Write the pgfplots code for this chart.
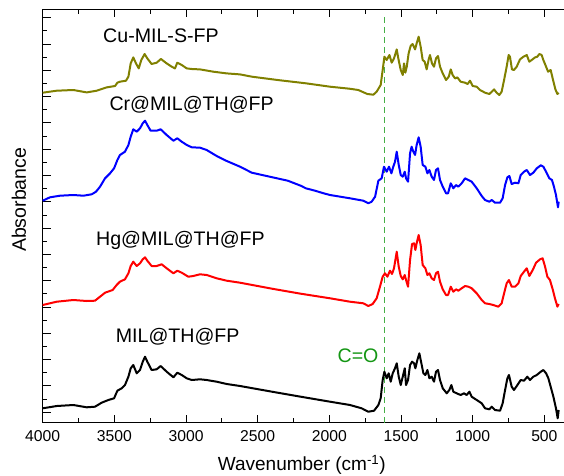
\documentclass[border=0pt]{standalone}
\usepackage{fontspec}
\setmainfont{Liberation Sans}
\usepackage{pgfplots}
\pgfplotsset{compat=1.18}
\definecolor{cuolive}{RGB}{128,128,0}
\definecolor{cogreen}{RGB}{20,150,20}
\definecolor{dashgreen}{RGB}{70,175,70}

\begin{document}
\begin{tikzpicture}
\useasboundingbox (-42.7pt,-52.3pt) rectangle (521.3pt,422.7pt);
\begin{axis}[
    scale only axis,
    width=521.3pt, height=413.4pt,
    x dir=reverse,
    xmin=363, xmax=4000,
    ymin=0, ymax=413.4,
    axis x line*=box, axis y line*=left,
    axis line style={line width=1.1pt},
    tick align=inside,
    major tick length=8pt, minor tick length=4.5pt,
    tick style={line width=0.9pt, black},
    xtick={500,1000,...,4000}, minor x tick num=1,
    ytick={10.5,36.8,...,405}, minor y tick num=1,
    yticklabels={},
    /pgf/number format/assume math mode=true,
    /pgf/number format/1000 sep={},
    xticklabel style={font=\fontsize{15.7}{18}\selectfont, yshift=-4.5pt},
    xlabel={Wavenumber (cm\textsuperscript{-1})},
    ylabel={Absorbance},
    xlabel style={font=\fontsize{19}{22}\selectfont, at={(axis description cs:0.497,-0.1016)}, anchor=center},
    ylabel style={font=\fontsize{19.5}{22}\selectfont, at={(axis description cs:-0.0455,0.539)}, anchor=center},
    every axis plot/.append style={line width=2pt, line join=round},
    clip=false,
]
% C=O marker
\addplot[dashgreen, dash pattern=on 6pt off 4pt, line width=1.2pt] coordinates {(1615,0) (1615,406)};

% Cu-MIL-S-FP
\addplot[cuolive] coordinates {
(4000,330) (3902,332) (3786,332.7) (3693,330.3) (3623,332) (3554,335.3) (3495,336.7)
(3479,340) (3461,341) (3419,342) (3402,346) (3386,359.3) (3368,365.3) (3349,359.3)
(3330,354.3) (3312,362.7) (3289,368.7) (3270,364.3) (3240,358.7) (3205,360) (3175,363.7)
(3135,359.3) (3100,356) (3077,354.3) (3061,360) (3030,357.7) (2995,354.3) (2960,353.7)
(2902,353.3) (2809,351) (2716,349.3) (2623,348.3) (2540,346) (2350,342.5) (2164,339.4)
(1995,336) (1860,334) (1798,332.7) (1735,328.7) (1693,328) (1670,331) (1642,337.7)
(1628,352.7) (1616,366) (1600,362.7) (1581,367.7) (1565,360) (1549,364.3) (1530,373.3)
(1519,364.3) (1502,352.7) (1488,347.7) (1479,359.3) (1470,350) (1460,356) (1447,369.3)
(1433,376.7) (1419,378.7) (1402,373.3) (1391,379.3) (1377,386) (1363,376) (1349,362.7)
(1335,361) (1321,353.3) (1307,363.3) (1298,367.7) (1284,359.3) (1270,356) (1256,364.3)
(1242,366.7) (1228,356) (1209,349.3) (1186,342.7) (1167,346) (1153,353.3) (1140,347.7)
(1123,344.3) (1107,345.3) (1084,341) (1053,340) (1035,338.7) (1019,342) (1000,336.7)
(972,336) (949,332.7) (914,330) (884,328.7) (867,331) (851,333.3) (833,330) (814,327.7)
(798,331) (781,342.7) (763,356) (749,367.7) (740,366) (726,353.3) (712,352.7) (693,356)
(670,363.3) (646,366) (623,367.7) (605,361) (588,362.7) (565,365.3) (549,366) (535,368.7)
(519,367.7) (507,362.7) (488,356) (474,351) (456,352.7) (442,344.3) (423,333.3) (409,328.7)
(400,330)
};

% Cr@MIL@TH@FP
\addplot[blue] coordinates {
(4000,222) (3949,225.4) (3879,227) (3786,227.7) (3716,227) (3658,228.4) (3628,231) (3600,236)
(3565,244.4) (3530,249.4) (3502,254.4) (3479,262.7) (3461,267.7) (3426,271) (3402,277.7)
(3386,286) (3368,293.4) (3344,291) (3321,294.4) (3302,299.4) (3286,302) (3270,297.7)
(3247,292) (3205,292) (3177,293.4) (3135,287.7) (3088,282) (3061,284.4) (3030,281)
(2995,277.7) (2960,275.4) (2902,275) (2856,272.7) (2786,266.7) (2716,261.7) (2623,256)
(2541,250) (2400,245.5) (2290,242) (2200,237) (2164,234.4) (2100,232) (2040,229.4)
(1995,227.7) (1856,224.4) (1763,222) (1728,219.4) (1705,221) (1681,226) (1658,242)
(1635,244.4) (1619,256) (1600,251) (1584,256) (1567,249.4) (1554,256) (1542,261) (1530,271)
(1516,257.7) (1502,247.7) (1488,246) (1474,251) (1465,244.4) (1451,241) (1437,269.4)
(1426,276) (1414,271) (1402,267.7) (1391,277.7) (1377,285.4) (1363,276) (1349,257.7)
(1330,256) (1316,249.4) (1302,252.7) (1286,246) (1270,242.7) (1256,252.7) (1242,254.4)
(1228,242.7) (1209,236) (1186,229.4) (1172,229.4) (1153,239.4) (1135,234.4) (1116,237.7)
(1100,236) (1077,239.4) (1053,244.4) (1030,242.7) (1007,241) (972,234.4) (937,226.7)
(914,222.7) (884,221) (867,222.7) (844,220) (809,220) (791,224.4) (774,237.7) (758,245.4)
(744,246.7) (728,238.7) (705,240) (681,239.4) (665,247.7) (642,251) (623,252.7) (600,247.7)
(577,250) (553,254.4) (525,257.4) (507,256) (488,251) (465,244.4) (447,242.7) (433,236)
(419,227.7) (405,215.4) (400,221)
};

% Hg@MIL@TH@FP
\addplot[red] coordinates {
(4000,117.7) (3902,121) (3786,122.7) (3693,121.7) (3635,122) (3600,126) (3565,130) (3512,132.7)
(3484,137.7) (3461,141) (3426,143.4) (3402,149.4) (3386,156.7) (3368,161) (3344,156.7)
(3321,159.4) (3302,163.4) (3286,165.4) (3270,162) (3240,156.7) (3205,156.7) (3170,158.4)
(3135,154.4) (3088,149.4) (3061,152) (3030,150) (2984,146) (2949,146.7) (2902,148.4)
(2856,147.7) (2786,144.4) (2716,142) (2623,140) (2400,134) (2200,129) (1995,124.4)
(1856,121) (1763,119.4) (1728,116.7) (1698,118.7) (1670,124.4) (1647,136) (1628,146)
(1612,149.4) (1595,146) (1577,152) (1563,148.7) (1549,154.4) (1530,171) (1516,156)
(1502,146.7) (1488,143.4) (1474,147.7) (1465,142.7) (1451,136) (1437,162.7) (1423,178.7)
(1409,179.4) (1400,172.7) (1391,179.4) (1377,187.7) (1363,177.7) (1349,157.7) (1330,154.4)
(1316,147.7) (1302,149.4) (1286,144.4) (1270,142.7) (1256,149.4) (1242,151) (1228,141)
(1209,133.4) (1186,127.7) (1172,127.7) (1153,136) (1135,131) (1116,133.4) (1100,132)
(1077,134.4) (1053,136.7) (1030,136) (1007,134.4) (972,129.4) (937,122.7) (914,119.4)
(884,118.7) (856,117.7) (821,116) (798,119.4) (781,129.4) (763,139.4) (747,142.7) (728,136)
(705,136) (681,139.4) (665,146.7) (642,151) (623,154.4) (605,146.7) (581,152.7) (558,160)
(530,163.4) (512,164.4) (495,156) (479,146) (461,142.7) (442,133.4) (426,124.4) (409,116)
(400,118.7)
};

% MIL@TH@FP
\addplot[black] coordinates {
(4000,14.4) (3902,16.7) (3786,17.7) (3693,15.4) (3635,16) (3589,20) (3542,22.7) (3502,24.4)
(3479,32) (3449,34.4) (3426,37.7) (3402,46) (3386,54.4) (3368,57.7) (3344,49.4) (3321,52.7)
(3302,61) (3286,66) (3270,61) (3240,52.7) (3205,53.4) (3177,56.7) (3135,51) (3088,45.4)
(3061,50) (3030,47.7) (2995,44.4) (2960,42.7) (2902,43.4) (2856,42.7) (2786,41) (2716,38.7)
(2623,36.7) (2400,31) (2200,26) (1995,21) (1856,17.7) (1775,14.4) (1728,11) (1688,12)
(1658,17.7) (1642,24.4) (1628,42.7) (1616,51) (1600,44.4) (1586,49.4) (1572,41) (1558,49.4)
(1542,54.4) (1530,59.4) (1516,46) (1502,37.7) (1488,46) (1474,54.4) (1465,37.7) (1451,42.7)
(1437,57.7) (1423,61) (1409,59.4) (1400,54.4) (1386,62.7) (1372,69.4) (1358,59.4)
(1344,49.4) (1330,47.7) (1316,52.7) (1302,44.4) (1286,46) (1270,41) (1256,51) (1242,52.7)
(1228,42.7) (1209,34.4) (1181,29.4) (1163,32.7) (1149,37.7) (1135,31) (1112,29.4)
(1084,27.7) (1060,29.4) (1042,27.7) (1023,31) (1007,26) (972,22.7) (937,19.4) (914,14.4)
(884,13.4) (867,16) (844,12.7) (809,12) (791,19.4) (774,32.7) (758,44.4) (747,47.7) (728,36)
(712,32.7) (688,37.7) (665,42.7) (642,42) (619,46) (600,42.7) (577,46) (553,47.7) (525,51)
(507,52.7) (488,49.4) (472,44.4) (456,36) (437,26) (419,14.4) (407,4.4) (400,12.7)
};

\begin{scope}[every node/.style={font=\fontsize{19.6}{22}\selectfont, anchor=center}]
\node at (axis cs:3175,386.7) {Cu-MIL-S-FP};
\node at (axis cs:2961,317.7) {Cr@MIL@TH@FP};
\node at (axis cs:3039,182) {Hg@MIL@TH@FP};
\node at (axis cs:3058,86) {MIL@TH@FP};
\node[text=cogreen] at (axis cs:1800,67.2) {C=O};
\end{scope}
\end{axis}
\end{tikzpicture}
\end{document}
